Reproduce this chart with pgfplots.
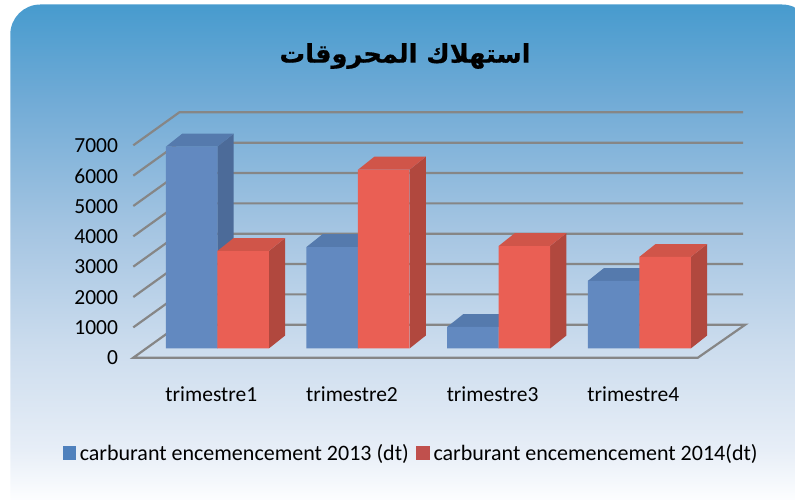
\documentclass[border=0pt]{standalone}
\usepackage{pgfplots}
\pgfplotsset{compat=1.18}
\usepackage{fontspec}
\setmainfont{Carlito}
\newfontfamily\arabicfont[Script=Arabic,BoldFeatures={FakeBold=0.6}]{DejaVu Sans}
\TeXXeTstate=1
\definecolor{c0}{RGB}{253,254,255}
\definecolor{c1}{RGB}{231,238,247}
\definecolor{c2}{RGB}{205,221,238}
\definecolor{c3}{RGB}{165,197,226}
\definecolor{c4}{RGB}{113,171,214}
\definecolor{c5}{RGB}{71,155,206}
\pgfdeclareverticalshading{panel}{100bp}{color(0bp)=(c0); color(27.8bp)=(c0); color(32.6bp)=(c1); color(42bp)=(c2); color(53.5bp)=(c3); color(65.9bp)=(c4); color(75bp)=(c5); color(100bp)=(c5)}
\definecolor{blueF}{RGB}{98,137,192}
\definecolor{blueT}{RGB}{85,122,173}
\definecolor{blueS}{RGB}{76,107,153}
\definecolor{redF}{RGB}{234,95,84}
\definecolor{redT}{RGB}{208,85,73}
\definecolor{redS}{RGB}{177,72,62}
\definecolor{gridc}{RGB}{134,134,134}
\definecolor{legB}{RGB}{79,129,189}
\definecolor{legR}{RGB}{192,80,77}
% side and top faces of one bar: left x, right x, value, top colour, side colour
\newcommand\faces[5]{%
  \pgfmathsetmacro\xa{#1+0.1159}\pgfmathsetmacro\xb{#2+0.1159}\pgfmathsetmacro\vt{#3+428}%
  \addplot[fill=#5,draw=none,forget plot] coordinates {(#2,0)(\xb,428)(\xb,\vt)(#2,#3)} -- cycle;
  \addplot[fill=#4,draw=none,forget plot] coordinates {(#1,#3)(#2,#3)(\xb,\vt)(\xa,\vt)} -- cycle;
}
\begin{document}
\begin{tikzpicture}[x=1pt,y=1pt]
\path[use as bounding box] (0,0) rectangle (795,500);
\begin{scope}
\clip (0,0) rectangle (795,500);
\path[shading=panel,rounded corners=30pt] (10.3,-30) rectangle (812,495.5);
\end{scope}
\node[font=\arabicfont\bfseries\fontsize{25.6}{30}\selectfont,text=black] at (405,444) {\beginR استهلاك المحروقات\endR};
\begin{axis}[
  at={(125pt,130pt)},anchor=south west,
  scale only axis,width=625pt,height=265pt,
  xmin=-0.6565,xmax=3.7873,ymin=-708.6,ymax=8026,
  clip=false,
  axis line style={draw=none},
  tick style={draw=none},
  tick pos=left,
  xtick={0,1,2,3},
  xticklabels={trimestre1,trimestre2,trimestre3,trimestre4},
  ytick={0,1000,2000,3000,4000,5000,6000,7000},
  scaled y ticks=false,
  /pgf/number format/1000 sep={},
  /pgf/number format/assume math mode=true,
  xticklabel style={font=\fontsize{21.5}{24}\selectfont,text=black,xshift=-6pt,yshift=-13pt},
  yticklabel style={font=\fontsize{21.5}{24}\selectfont,text=black,yshift=-9.5pt,xshift=-3.5pt},
  legend columns=2,
  legend cell align=left,
  legend style={at={(-0.105,-0.3132)},anchor=west,draw=none,fill=none,
    font=\fontsize{22}{24}\selectfont,
    /tikz/every even column/.append style={column sep=5.5pt}},
]
% wall and floor lines
\pgfplotsset{grid line/.style={draw=gridc,line width=2.2pt,forget plot}}
\addplot[grid line] coordinates {(-0.5974,697)(-0.2703,1784)(3.7390,1784)};
\addplot[grid line] coordinates {(-0.5974,1697)(-0.2703,2784)(3.7390,2784)};
\addplot[grid line] coordinates {(-0.5974,2697)(-0.2703,3784)(3.7390,3784)};
\addplot[grid line] coordinates {(-0.5974,3697)(-0.2703,4784)(3.7390,4784)};
\addplot[grid line] coordinates {(-0.5974,4697)(-0.2703,5784)(3.7390,5784)};
\addplot[grid line] coordinates {(-0.5974,5697)(-0.2703,6784)(3.7390,6784)};
\addplot[grid line] coordinates {(-0.5974,6697)(-0.2703,7784)(3.7390,7784)};
\addplot[grid line] coordinates {(-0.2703,784)(3.7532,784)(3.4168,-303)(-0.5974,-303)(-0.2703,784)};
% series 2013
\faces{-0.3663}{0}{6651}{blueT}{blueS}
\faces{0.6337}{1}{3345}{blueT}{blueS}
\faces{1.6337}{2}{709}{blueT}{blueS}
\faces{2.6337}{3}{2225}{blueT}{blueS}
\addplot[ybar,bar width=51.5pt,bar shift=-25.75pt,fill=blueF,draw=none,forget plot]
  coordinates {(0,6651)(1,3345)(2,709)(3,2225)};
% series 2014
\faces{0}{0.3663}{3213}{redT}{redS}
\faces{1}{1.3663}{5893}{redT}{redS}
\faces{2}{2.3663}{3378}{redT}{redS}
\faces{3}{3.3663}{3016}{redT}{redS}
\addplot[ybar,bar width=51.5pt,bar shift=25.75pt,fill=redF,draw=none,forget plot]
  coordinates {(0,3213)(1,5893)(2,3378)(3,3016)};
\addlegendimage{legend image code/.code={\fill[legB] (0pt,-6.5pt) rectangle (12.5pt,6.5pt);\path[draw=none,fill=none] (0pt,0pt) -- (15pt,0pt);}}
\addlegendentry{carburant encemencement 2013 (dt)}
\addlegendimage{legend image code/.code={\fill[legR] (0pt,-6.5pt) rectangle (12.5pt,6.5pt);\path[draw=none,fill=none] (0pt,0pt) -- (15pt,0pt);}}
\addlegendentry{carburant encemencement 2014(dt)}
\end{axis}
\end{tikzpicture}
\end{document}
